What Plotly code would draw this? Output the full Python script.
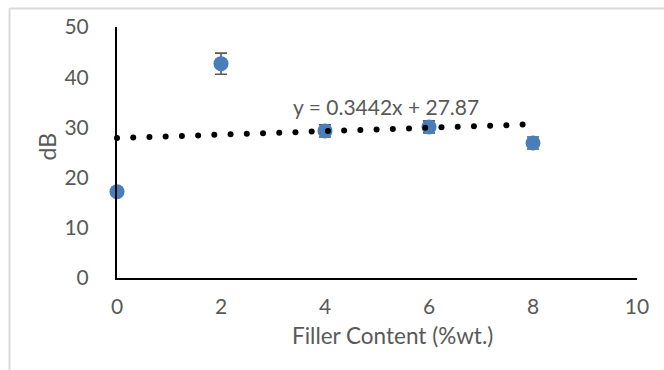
import numpy as np
import plotly.graph_objects as go

filler = [0, 2, 4, 6, 8]
db = [17.2, 42.7, 29.3, 30.1, 26.9]
err = [0.3, 2.1, 1.2, 1.2, 1.2]

slope = 0.3442
intercept = 27.87
trend_label = "y = 0.3442x + 27.87"
x_title = "Filler Content (%wt.)"
y_title = "dB"

x_ticks = [0, 2, 4, 6, 8, 10]
y_ticks = [0, 10, 20, 30, 40, 50]

W, H = 664, 370
L, R, T, B = 117, 27, 27, 92
pw = W - L - R
ph = H - T - B


def px_x(p):
    return (p - L) / pw


def px_y(p):
    return (H - B - p) / ph


trend_x = np.arange(0, 7.85, 0.312)
trend_y = slope * trend_x + intercept

fig = go.Figure()
fig.add_trace(go.Scatter(
    x=filler, y=db, mode="markers",
    marker=dict(color="#4A7EBB", size=15),
    error_y=dict(type="data", array=err, visible=True, color="#595959",
                 thickness=1.6, width=6),
    showlegend=False, cliponaxis=False,
))
fig.add_trace(go.Scatter(
    x=trend_x, y=trend_y, mode="markers",
    marker=dict(color="black", size=6),
    showlegend=False, cliponaxis=False,
))

fig.add_annotation(x=5.17, y=34.1, text=trend_label, showarrow=False,
                   xanchor="center", yanchor="middle", borderpad=0,
                   font=dict(size=21, color="#595959", family="Lato"))
fig.add_annotation(xref="paper", yref="paper", x=px_x(392), y=px_y(335),
                   xanchor="center", yanchor="middle", borderpad=0,
                   text=x_title, showarrow=False,
                   font=dict(size=22.5, color="#595959", family="Lato"))
fig.add_annotation(xref="paper", yref="paper", x=px_x(46.5), y=px_y(147),
                   xanchor="center", yanchor="middle", borderpad=0,
                   text=y_title, showarrow=False, textangle=-90,
                   font=dict(size=23, color="#595959", family="Lato"))

bx = px_x(9.5)
by = px_y(8.5)
fig.add_shape(type="line", xref="paper", yref="paper", x0=bx, x1=bx, y0=-1, y1=by,
              line=dict(color="#D9D9D9", width=2))
fig.add_shape(type="line", xref="paper", yref="paper", x0=bx, x1=2, y0=by, y1=by,
              line=dict(color="#D9D9D9", width=2))

fig.update_layout(
    width=W, height=H,
    margin=dict(l=L, r=R, t=T, b=B),
    paper_bgcolor="white", plot_bgcolor="white",
    font=dict(family="Lato", color="#595959", size=21),
    xaxis=dict(range=[0, 10], tickvals=x_ticks, showgrid=False, zeroline=False,
               showline=True, linecolor="black", linewidth=2, ticks="",
               ticklabelstandoff=9),
    yaxis=dict(range=[0, 50], tickvals=y_ticks, showgrid=False, zeroline=False,
               showline=True, linecolor="black", linewidth=2, ticks="",
               ticklabelstandoff=22),
)

fig.write_html("out.html")
